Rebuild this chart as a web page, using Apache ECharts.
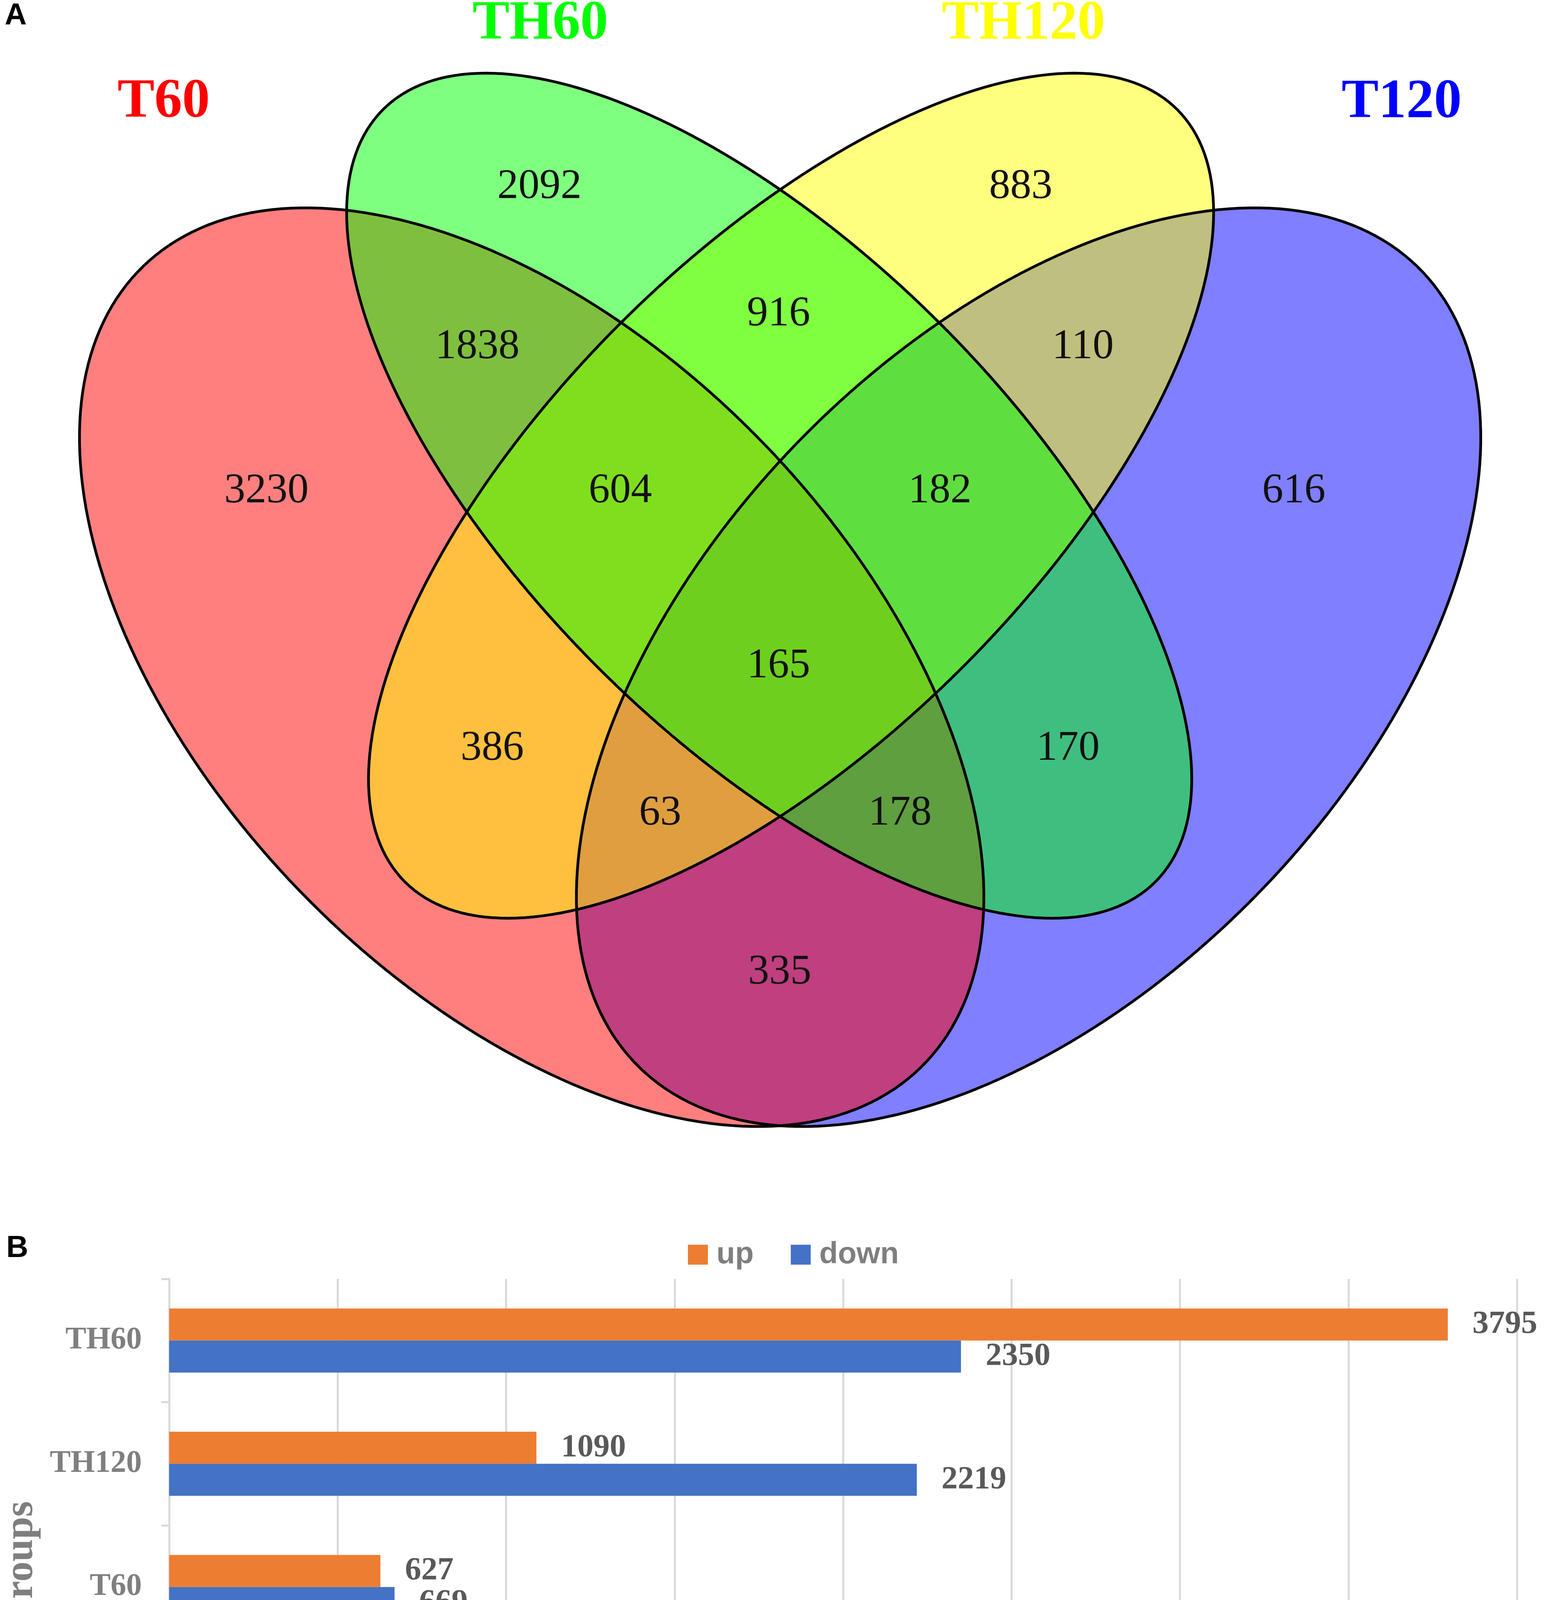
<!DOCTYPE html>
<html>
<head>
<meta charset="utf-8">
<script src="https://cdn.jsdelivr.net/npm/echarts@6.0.0/dist/echarts.min.js"></script>
<style>
  html, body { margin: 0; padding: 0; background: #fff; }
  #main { width: 3978px; height: 4884px; }
</style>
</head>
<body>
<div id="main"></div>
<script>
// ---------------- data ----------------
var setNames = ['T60', 'TH60', 'TH120', 'T120'];
// region key = membership flags in setNames order
var vennRegions = ['1000', '0100', '0010', '0001', '1100', '0110', '0011', '1010',
                   '0101', '1001', '1110', '0111', '1011', '1101', '1111'];
var vennCounts  = [3230, 2092, 883, 616, 1838, 916, 110, 386,
                   170, 335, 604, 182, 63, 178, 165];

var groups     = ['TH60', 'TH120', 'T60', 'T120'];
var upCounts   = [3795, 1090, 627, 1278];
var downCounts = [2350, 2219, 669, 541];
var geneTicks  = [0, 500, 1000, 1500, 2000, 2500, 3000, 3500, 4000];

// ---------------- venn layout (page px) ----------------
var ellipseShape = {
  T60:   { cx: 1361, cy: 1708, a: 1429, b: 825, angle: 45.9 },
  TH60:  { cx: 1969, cy: 1269, a: 1398, b: 621, angle: 45 },
  TH120: { cx: 2025, cy: 1269, a: 1398, b: 621, angle: 135 },
  T120:  { cx: 2633, cy: 1708, a: 1429, b: 825, angle: 134.1 }
};
var setColor = { T60: '#ff0000', TH60: '#00ff00', TH120: '#ffff00', T120: '#0000ff' };
var fillOrder = ['T120', 'T60', 'TH120', 'TH60'];
var setLabelPos = { T60: [419, 262], TH60: [1383, 62], TH120: [2620, 62], T120: [3588, 263] };
var regionPos = {
  '1000': [682, 1258],  '0100': [1381, 479],  '0010': [2613, 479],  '0001': [3312, 1258],
  '1100': [1222, 889],  '0110': [1993, 805],  '0011': [2772, 889],  '1010': [1260, 1917],
  '0101': [2734, 1917], '1001': [1996, 2490], '1110': [1588, 1258], '0111': [2406, 1258],
  '1011': [1690, 2083], '1101': [2304, 2083], '1111': [1993, 1706]
};

function ellipsePoints(e, api) {
  var pts = [];
  var th = e.angle * Math.PI / 180;
  var n = 240;
  for (var i = 0; i < n; i++) {
    var t = 2 * Math.PI * i / n;
    var ex = e.a * Math.cos(t), ey = e.b * Math.sin(t);
    pts.push(api.coord([e.cx + ex * Math.cos(th) - ey * Math.sin(th),
                        e.cy + ex * Math.sin(th) + ey * Math.cos(th)]));
  }
  return pts;
}

function hexAlpha(hex, a) {
  var r = parseInt(hex.substr(1, 2), 16), g = parseInt(hex.substr(3, 2), 16), b = parseInt(hex.substr(5, 2), 16);
  return 'rgba(' + r + ',' + g + ',' + b + ',' + a + ')';
}

var serif = '"Liberation Serif", "Times New Roman", serif';
var sans = '"Liberation Sans", Arial, sans-serif';

var ellipseData = fillOrder.map(function (k) {
  return { name: k, value: [ellipseShape[k].cx, ellipseShape[k].cy] };
});

var myChart = echarts.init(document.getElementById('main'));
var option = {
  animation: false,
  backgroundColor: '#ffffff',
  legend: {
    data: ['up', 'down'],
    left: 1756,
    top: 3168,
    itemWidth: 51,
    itemHeight: 51,
    itemGap: 95,
    icon: 'rect',
    textStyle: { fontFamily: sans, fontWeight: 'bold', fontSize: 78, color: '#7f7f7f', padding: [0, 0, 0, 17] }
  },
  grid: [
    { left: 433, right: 95, top: 3274, bottom: 348, outerBoundsMode: 'none' },
    { left: 0, top: 0, width: 3978, height: 3000, outerBoundsMode: 'none' }
  ],
  xAxis: [
    {
      gridIndex: 0,
      type: 'value',
      min: geneTicks[0],
      max: geneTicks[geneTicks.length - 1],
      interval: geneTicks[1] - geneTicks[0],
      axisLine: { show: false },
      axisTick: { show: false },
      axisLabel: {
        fontFamily: serif, fontWeight: 'bold', fontSize: 82, color: '#595959', margin: 52,
        formatter: function (v) { return String(v); }
      },
      splitLine: { show: true, lineStyle: { color: '#d9d9d9', width: 5 } }
    },
    { gridIndex: 1, type: 'value', min: 0, max: 3978, show: false }
  ],
  yAxis: [
    {
      gridIndex: 0,
      type: 'category',
      data: groups,
      inverse: true,
      axisLine: { show: true, lineStyle: { color: '#d9d9d9', width: 5 } },
      axisTick: { show: true, length: 20, lineStyle: { color: '#d9d9d9', width: 5 } },
      axisLabel: { fontFamily: serif, fontWeight: 'bold', fontSize: 80, color: '#7f7f7f', margin: 70 },
      splitLine: { show: false }
    },
    { gridIndex: 1, type: 'value', min: 0, max: 3000, inverse: true, show: false }
  ],
  graphic: [
    { type: 'text', x: 12, y: 41, style: { text: 'A', font: 'bold 78px ' + sans, fill: '#000', verticalAlign: 'middle' } },
    { type: 'text', x: 16, y: 3196, style: { text: 'B', font: 'bold 78px ' + sans, fill: '#000', verticalAlign: 'middle' } },
    { type: 'text', x: 2058, y: 4815, style: { text: 'Number of gene', font: 'bold 104px ' + serif, fill: '#7f7f7f', align: 'center', verticalAlign: 'middle' } },
    { type: 'text', x: 55, y: 4008, rotation: Math.PI / 2, style: { text: 'Groups', font: 'bold 103px ' + serif, fill: '#7f7f7f', align: 'center', verticalAlign: 'middle' } }
  ],
  series: [
    {
      name: 'vennFill',
      type: 'custom',
      xAxisIndex: 1,
      yAxisIndex: 1,
      silent: true,
      data: ellipseData,
      renderItem: function (params, api) {
        var k = fillOrder[params.dataIndex];
        return {
          type: 'polygon',
          shape: { points: ellipsePoints(ellipseShape[k], api) },
          style: { fill: hexAlpha(setColor[k], 0.5), stroke: null }
        };
      }
    },
    {
      name: 'vennLine',
      type: 'custom',
      xAxisIndex: 1,
      yAxisIndex: 1,
      silent: true,
      data: ellipseData,
      renderItem: function (params, api) {
        var k = fillOrder[params.dataIndex];
        return {
          type: 'polygon',
          shape: { points: ellipsePoints(ellipseShape[k], api) },
          style: { fill: null, stroke: '#000', lineWidth: 7 }
        };
      }
    },
    {
      name: 'vennCount',
      type: 'custom',
      xAxisIndex: 1,
      yAxisIndex: 1,
      silent: true,
      data: vennRegions.map(function (r, i) {
        return { name: r, value: [regionPos[r][0], regionPos[r][1], vennCounts[i]] };
      }),
      renderItem: function (params, api) {
        var p = api.coord([api.value(0), api.value(1)]);
        return {
          type: 'text',
          x: p[0], y: p[1],
          style: { text: String(api.value(2)), font: '108px ' + serif, fill: '#111', align: 'center', verticalAlign: 'middle' }
        };
      }
    },
    {
      name: 'vennSetName',
      type: 'custom',
      xAxisIndex: 1,
      yAxisIndex: 1,
      silent: true,
      data: setNames.map(function (s) {
        return { name: s, value: [setLabelPos[s][0], setLabelPos[s][1]] };
      }),
      renderItem: function (params, api) {
        var s = setNames[params.dataIndex];
        var p = api.coord([api.value(0), api.value(1)]);
        return {
          type: 'text',
          x: p[0], y: p[1],
          style: { text: s, font: 'bold 142px ' + serif, fill: setColor[s], align: 'center', verticalAlign: 'middle' }
        };
      }
    },
    {
      name: 'up',
      type: 'bar',
      xAxisIndex: 0,
      yAxisIndex: 0,
      data: upCounts,
      barWidth: 82,
      barGap: '0%',
      itemStyle: { color: '#ed7d31' },
      label: { show: true, position: 'right', distance: 63, fontFamily: serif, fontWeight: 'bold', fontSize: 83, color: '#595959' }
    },
    {
      name: 'down',
      type: 'bar',
      xAxisIndex: 0,
      yAxisIndex: 0,
      data: downCounts,
      barWidth: 82,
      barGap: '0%',
      itemStyle: { color: '#4472c4' },
      label: { show: true, position: 'right', distance: 63, fontFamily: serif, fontWeight: 'bold', fontSize: 83, color: '#595959' }
    }
  ]
};
myChart.setOption(option);
</script>
</body>
</html>
